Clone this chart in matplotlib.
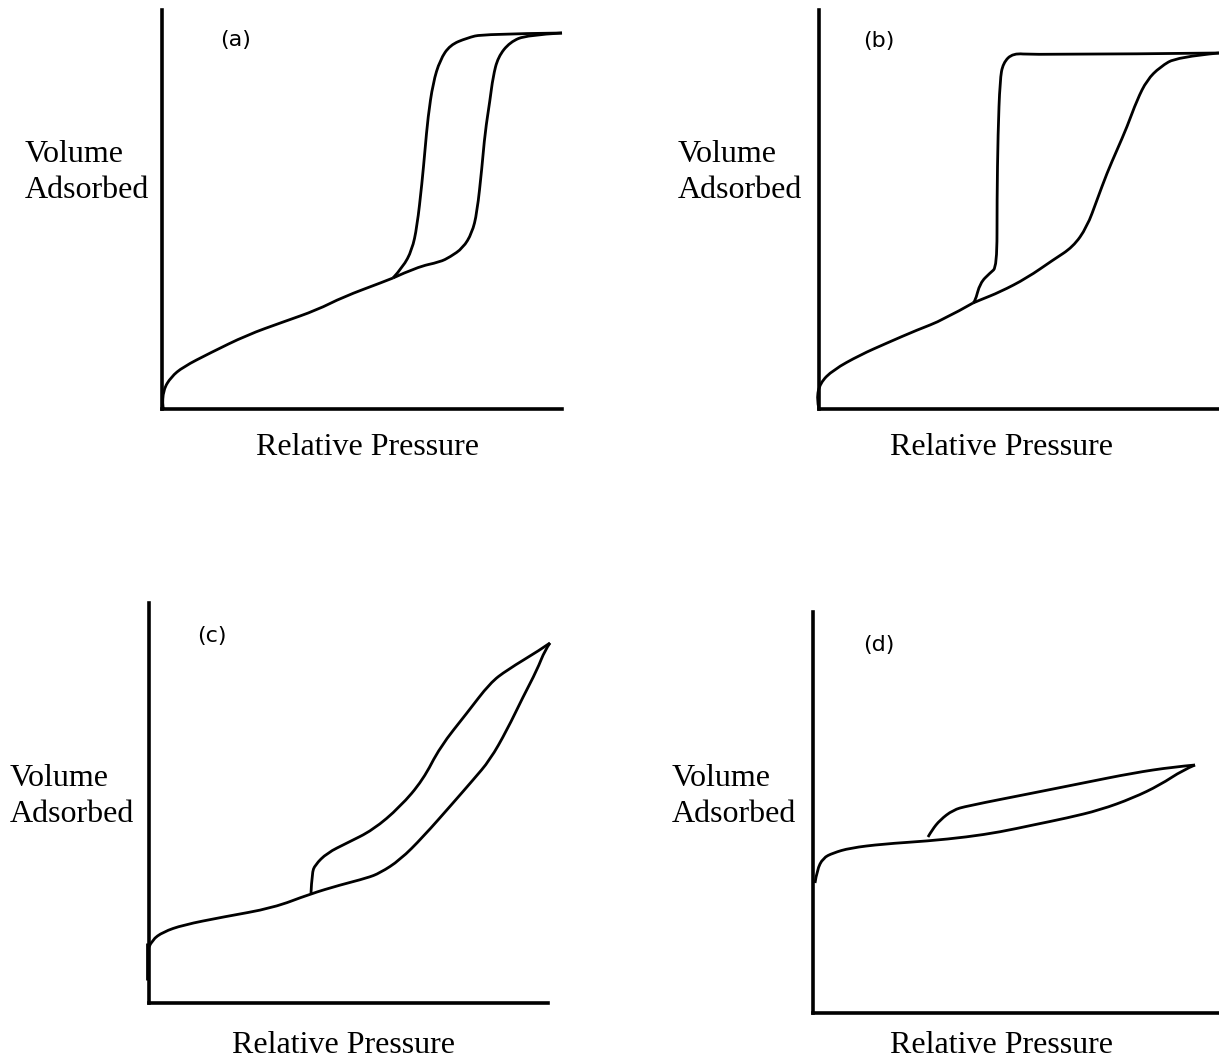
import matplotlib
matplotlib.use("Agg")
import matplotlib.pyplot as plt
from matplotlib.path import Path
from matplotlib.patches import PathPatch
import numpy as np

W, H = 1219, 1059

# ---- panel (a): common branch, adsorption (right), desorption (left) ----
a_common_x = [0.005, 0.001, 0.003, 0.0225, 0.0525, 0.12, 0.2125, 0.3025, 0.3875, 0.4525, 0.5525, 0.5775]
a_common_y = [0.0, 0.0025, 0.0475, 0.08, 0.105, 0.14, 0.185, 0.2175, 0.2475, 0.28, 0.3175, 0.3275]
a_ads_x = [0.5775, 0.6375, 0.695, 0.72, 0.7525, 0.775, 0.7875, 0.80, 0.8075, 0.82, 0.8275, 0.84, 0.87, 0.9125, 1.0]
a_ads_y = [0.3275, 0.355, 0.3675, 0.38, 0.4025, 0.44, 0.49, 0.605, 0.69, 0.7725, 0.83, 0.88, 0.9175, 0.935, 0.94]
a_des_x = [0.5775, 0.6025, 0.625, 0.6375, 0.65, 0.6575, 0.665, 0.6775, 0.695, 0.72, 0.7625, 0.8025, 1.0]
a_des_y = [0.3275, 0.355, 0.3975, 0.455, 0.565, 0.6475, 0.73, 0.815, 0.8725, 0.91, 0.9275, 0.9375, 0.94]

# ---- panel (b) ----
b_common_x = [0.0, -0.006, 0.0025, 0.035, 0.1025, 0.17, 0.245, 0.31, 0.385]
b_common_y = [0.0, 0.025, 0.065, 0.0975, 0.135, 0.165, 0.1975, 0.2225, 0.265]
b_ads_x = [0.385, 0.4025, 0.4525, 0.52, 0.585, 0.635, 0.67, 0.695, 0.72, 0.745, 0.77, 0.795, 0.82, 0.8525, 0.895, 1.0]
b_ads_y = [0.265, 0.2725, 0.2925, 0.3275, 0.3725, 0.405, 0.455, 0.5225, 0.59, 0.6475, 0.705, 0.7725, 0.8225, 0.855, 0.88, 0.89]
b_des_x = [0.385, 0.39, 0.4025, 0.4275, 0.445, 0.445, 0.4475, 0.4525, 0.46, 0.485, 0.535, 1.0]
b_des_y = [0.265, 0.2675, 0.315, 0.34, 0.355, 0.5225, 0.69, 0.8225, 0.865, 0.89, 0.885, 0.89]

# ---- panel (c) ----
c_stub_x = [-0.005, -0.005]
c_stub_y = [0.0575, 0.15]
c_ads_x = [0.0, 0.0075, 0.035, 0.085, 0.185, 0.31, 0.4025, 0.4775, 0.545, 0.5775, 0.6275, 0.685,
           0.76, 0.81, 0.8525, 0.895, 0.935, 0.97, 0.99, 1.0025]
c_ads_y = [0.14, 0.1575, 0.1775, 0.195, 0.215, 0.2375, 0.2725, 0.295, 0.3125, 0.325, 0.3575, 0.415,
           0.5, 0.5575, 0.6075, 0.6825, 0.765, 0.8325, 0.8825, 0.9]
c_des_x = [1.0025, 0.9775, 0.895, 0.8525, 0.795, 0.7275, 0.685, 0.6275, 0.56, 0.495, 0.445, 0.415, 0.4075, 0.405]
c_des_y = [0.9, 0.8825, 0.8325, 0.8, 0.725, 0.64, 0.5575, 0.49, 0.4325, 0.4, 0.375, 0.345, 0.325, 0.275]

# ---- panel (d) ----
d_ads_x = [0.005, 0.01, 0.025, 0.05, 0.0925, 0.175, 0.2875, 0.385, 0.4675, 0.55, 0.635, 0.7175, 0.8, 0.8675, 0.925, 0.955]
d_ads_y = [0.325, 0.3575, 0.3875, 0.4, 0.4125, 0.4225, 0.43, 0.44, 0.4525, 0.47, 0.4875, 0.5075, 0.5375, 0.57, 0.6075, 0.62]
d_des_x = [0.955, 0.9, 0.8, 0.675, 0.55, 0.385, 0.35, 0.3175, 0.2975, 0.2875]
d_des_y = [0.62, 0.615, 0.6, 0.575, 0.55, 0.5175, 0.5075, 0.4825, 0.4575, 0.44]

panel_tags = ["(a)", "(b)", "(c)", "(d)"]
ylabel_lines = ["Volume", "Adsorbed"]
xlabel_text = "Relative Pressure"

fig = plt.figure(figsize=(W / 100, H / 100), dpi=100)
fig.patch.set_facecolor("white")

def px_rect(left, top, right, bottom):
    return [left / W, 1 - bottom / H, (right - left) / W, (bottom - top) / H]

def smooth_path(xs, ys):
    # read points used as control polygon of a quadratic curve, like a hand drawn stroke
    pts = np.column_stack([xs, ys])
    if len(pts) < 3:
        return Path(pts)
    verts = [pts[0]]
    codes = [Path.MOVETO]
    for i in range(1, len(pts) - 2):
        verts += [pts[i], (pts[i] + pts[i + 1]) / 2]
        codes += [Path.CURVE3, Path.CURVE3]
    verts += [pts[-2], pts[-1]]
    codes += [Path.CURVE3, Path.CURVE3]
    return Path(verts, codes)

# axes rectangles in pixels: left, top, right, bottom
rects = [(162, 10, 562, 409), (819, 10, 1219, 409), (149, 603, 548, 1003), (813, 612, 1219, 1013)]
series = [
    [(a_common_x, a_common_y), (a_ads_x, a_ads_y), (a_des_x, a_des_y)],
    [(b_common_x, b_common_y), (b_ads_x, b_ads_y), (b_des_x, b_des_y)],
    [(c_stub_x, c_stub_y), (c_ads_x, c_ads_y), (c_des_x, c_des_y)],
    [(d_ads_x, d_ads_y), (d_des_x, d_des_y)],
]
tag_pos = [(236, 40), (879, 41), (212, 636), (879, 645)]
ylab_pos = [(25, 162, 198), (678, 162, 198), (10, 786, 822), (672, 786, 822)]
xlab_pos = [(367, 455), (1002, 455), (344, 1053), (1002, 1053)]

for i, (l, t, r, b) in enumerate(rects):
    ax = fig.add_axes(px_rect(l, t, r, b))
    ax.set_xlim(0, (r - l) / 400)
    ax.set_ylim(0, (b - t) / 400)
    for sx, sy in series[i]:
        patch = PathPatch(smooth_path(sx, sy), fill=False, edgecolor="black", lw=2.0,
                          clip_on=False, capstyle="butt", joinstyle="round")
        ax.add_patch(patch)
    ax.spines["top"].set_visible(False)
    ax.spines["right"].set_visible(False)
    ax.spines["left"].set_linewidth(2.6)
    ax.spines["bottom"].set_linewidth(2.6)
    ax.set_xticks([])
    ax.set_yticks([])
    ax.patch.set_alpha(0)

    tx, ty = tag_pos[i]
    fig.text(tx / W, 1 - ty / H, panel_tags[i], fontsize=16, family="DejaVu Sans",
             ha="center", va="center")
    lx, b1, b2 = ylab_pos[i]
    fig.text(lx / W, 1 - b1 / H, ylabel_lines[0], fontsize=23, family="Liberation Serif",
             ha="left", va="baseline")
    fig.text(lx / W, 1 - b2 / H, ylabel_lines[1], fontsize=23, family="Liberation Serif",
             ha="left", va="baseline")
    xx, xb = xlab_pos[i]
    fig.text(xx / W, 1 - xb / H, xlabel_text, fontsize=23, family="Liberation Serif",
             ha="center", va="baseline")

fig.savefig("out.png", dpi=100, facecolor="white")
